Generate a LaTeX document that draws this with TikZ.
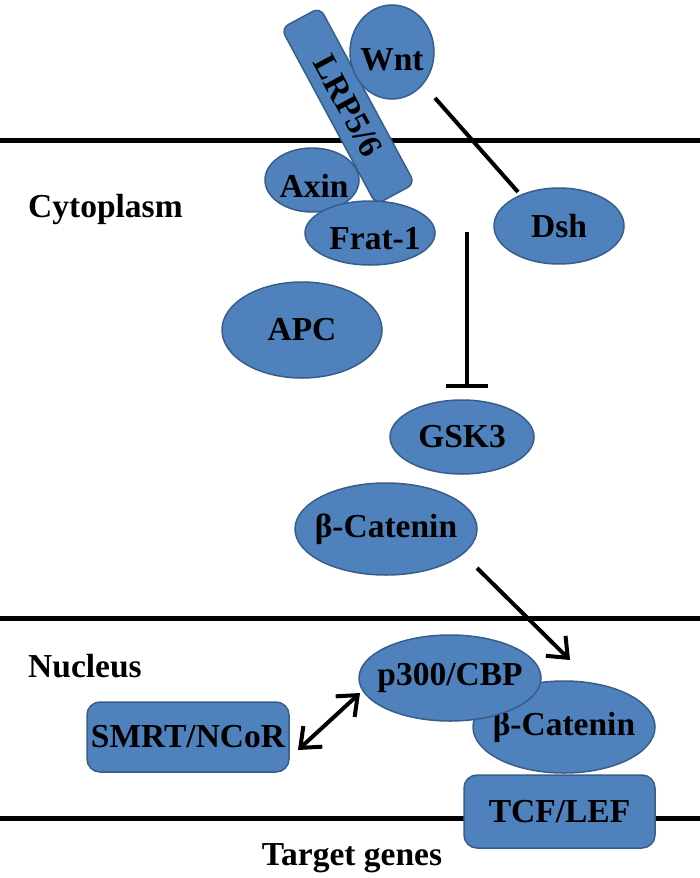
\documentclass[tikz,border=0pt]{standalone}
\usepackage{fontspec}
\setmainfont{Liberation Serif}
\usetikzlibrary{shapes.geometric,arrows.meta}
\definecolor{pfill}{HTML}{4F81BD}
\definecolor{pline}{HTML}{385D8A}
\begin{document}
\begin{tikzpicture}[x=1pt,y=-1pt,
  txt/.style={font=\fontsize{33.5}{38}\selectfont\bfseries, text=black},
  prot/.style={ellipse, fill=pfill, draw=pline, line width=1.5pt, inner sep=0pt},
  plbl/.style={label={[txt, inner sep=0pt]center:#1}},
  plbls/.style n args={3}{label={[txt, inner sep=0pt, xshift=#1, yshift=#2]center:#3}},
  pbox/.style={rectangle, rounded corners=13pt, fill=pfill, draw=pline, line width=1.5pt, inner sep=0pt, txt},
  memb/.style={line width=5pt, black},
  conn/.style={line width=4pt, black},
  arr/.style={conn, -{Straight Barb[length=17pt,width=28pt]}},
  darr/.style={conn, {Straight Barb[length=17pt,width=28pt]}-{Straight Barb[length=17pt,width=28pt]}},
  inh/.style={conn, -{Bar[width=42pt]}}
]
\useasboundingbox (0,0) rectangle (700,878);
% membranes
\coordinate (m1l) at (0,140); \coordinate (m1r) at (700,140);
\coordinate (m2l) at (0,618); \coordinate (m2r) at (700,618);
\coordinate (m3l) at (0,818); \coordinate (m3r) at (700,818);
\draw[memb] (m1l) -- (m1r);
\draw[memb] (m2l) -- (m2r);
\draw[memb] (m3l) -- (m3r);

% region labels
\node[txt, anchor=base west, inner sep=0pt] (cyto) at (28,217) {Cytoplasm};
\node[txt, anchor=base west, inner sep=0pt] (nuc) at (28,677) {Nucleus};
\node[txt, anchor=base, inner sep=0pt] (tg) at (352,865) {Target genes};

% receptor complex
\node[prot, minimum width=94pt, minimum height=64pt, plbls={2pt}{-6pt}{Axin}] (axin) at (312,180) {};
\node[pbox, rounded corners=8pt, rotate=-61.7, minimum width=200pt, minimum height=44pt] (lrp) at (348,106) {LRP5/6};
\node[prot, minimum width=84pt, minimum height=94pt, plbls={0pt}{-8pt}{Wnt}] (wnt) at (392,52) {};
\node[prot, minimum width=130pt, minimum height=64pt, plbls={5pt}{-6pt}{Frat-1}] (frat) at (370,233) {};
\node[prot, minimum width=130pt, minimum height=76pt, plbl={Dsh}] (dsh) at (559,226) {};

% cytoplasm
\node[prot, minimum width=160pt, minimum height=96pt, plbl={APC}] (apc) at (302,330) {};
\node[prot, minimum width=144pt, minimum height=74pt, plbl={GSK3}] (gsk) at (462,437) {};
\node[prot, minimum width=182pt, minimum height=92pt, plbl={β-Catenin}] (bcat) at (386,529) {};

% nucleus
\node[pbox, minimum width=202pt, minimum height=70pt] (smrt) at (188,737) {SMRT/NCoR};
\node[prot, minimum width=182pt, minimum height=92pt, plbl={β-Catenin}] (bcat2) at (564,727) {};
\node[prot, minimum width=182pt, minimum height=86pt, plbl={p300/CBP}] (p300) at (450,678) {};
\node[pbox, minimum width=191pt, minimum height=73pt] (tcf) at (559.5,811.5) {TCF/LEF};

% connectors
\coordinate (wntA) at (435,98);
\coordinate (dshA) at (518,192);
\draw[conn] (wntA) -- (dshA);
\coordinate (inhA) at (467,232);
\coordinate (inhB) at (467,388);
\draw[inh] (inhA) -- (inhB);
\coordinate (bcA) at (477,568);
\coordinate (bcB) at (570,660);
\draw[arr] (bcA) -- (bcB);
\coordinate (smA) at (298,750);
\coordinate (smB) at (360,693);
\draw[darr] (smA) -- (smB);
\end{tikzpicture}
\end{document}
